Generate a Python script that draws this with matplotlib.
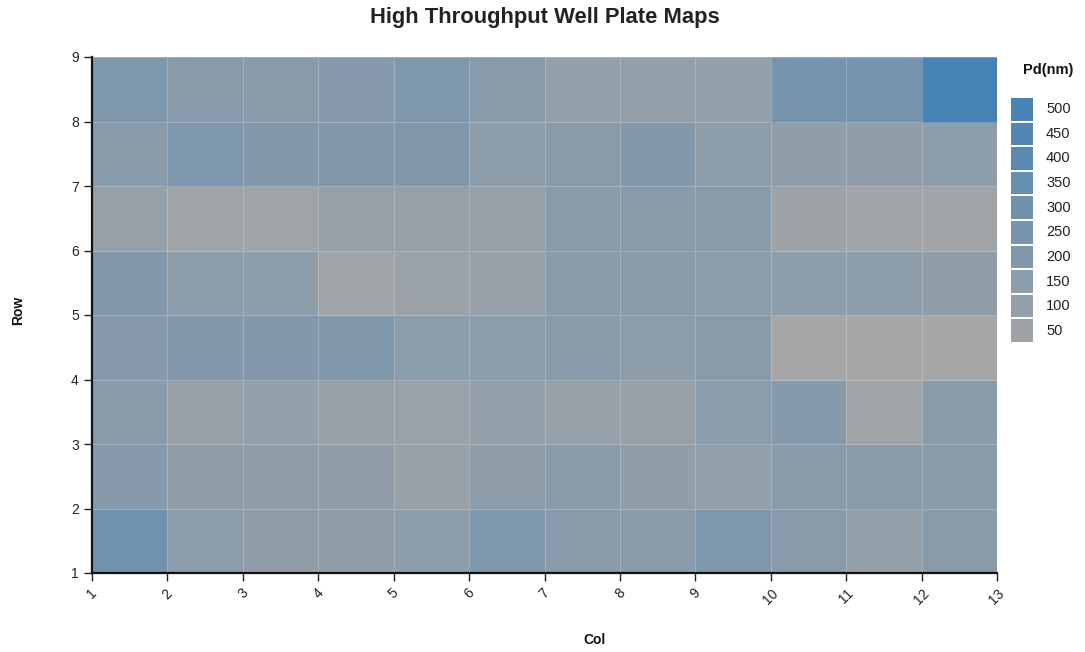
import matplotlib
matplotlib.use("Agg")
import matplotlib.pyplot as plt
import numpy as np
from matplotlib.colors import LinearSegmentedColormap, Normalize

plt.rcParams['font.family'] = ['Liberation Sans', 'DejaVu Sans']

# Pd(nm) per well, rows 1..8 (bottom to top), cols 1..12
row1 = [286, 146, 114, 125, 130, 208, 156, 156, 208, 156, 104, 166]
row2 = [172, 125, 125, 114, 73, 125, 156, 114, 104, 156, 156, 156]
row3 = [156, 94, 104, 73, 68, 104, 94, 94, 146, 177, 26, 156]
row4 = [172, 187, 187, 198, 146, 146, 156, 135, 156, 0, 0, 0]
row5 = [198, 130, 130, 21, 62, 83, 156, 156, 146, 135, 130, 125]
row6 = [94, 26, 26, 94, 83, 94, 166, 166, 166, 42, 36, 36]
row7 = [166, 218, 187, 187, 198, 130, 156, 187, 130, 120, 114, 130]
row8 = [208, 156, 156, 172, 208, 166, 104, 104, 104, 260, 260, 520]

col_edges = list(range(1, 14))
row_edges = list(range(1, 10))
legend_values = [500, 450, 400, 350, 300, 250, 200, 150, 100, 50]

grid = np.array([row1, row2, row3, row4, row5, row6, row7, row8])

cmap = LinearSegmentedColormap.from_list("graysteel", ["#a6a6a6", "#4682b4"])
norm = Normalize(vmin=0, vmax=grid.max())

fig = plt.figure(figsize=(10.85, 6.52), dpi=100)
ax = fig.add_axes([92 / 1085, 1 - 573 / 652, 905 / 1085, 516 / 652])

ax.pcolormesh(col_edges, row_edges, grid, cmap=cmap, norm=norm,
              edgecolors=(1, 1, 1, 0.22), linewidth=0.7)
ax.set_xlim(1, 13)
ax.set_ylim(1, 9)
ax.set_xticks(col_edges)
ax.set_yticks(row_edges)
ax.tick_params(direction='out', length=6, width=1, colors='#222222', labelsize=10)
for lbl in ax.get_xticklabels():
    lbl.set_rotation(45)
    lbl.set_ha('center')
    lbl.set_va('top')
for s in ['top', 'right']:
    ax.spines[s].set_visible(False)
for s in ['left', 'bottom']:
    ax.spines[s].set_linewidth(1.6)
    ax.spines[s].set_color('#111111')

fig.text(545 / 1085, 1 - 18 / 652, "High Throughput Well Plate Maps", ha='center', va='center',
         fontsize=15.8, fontweight='bold', color='#222222')
fig.text(595 / 1085, 1 - 640 / 652, "Col", ha='center', va='center',
         fontsize=10, fontweight='bold', color='#111111')
fig.text(18 / 1085, 1 - 310 / 652, "Row", ha='center', va='center', rotation=90,
         fontsize=10, fontweight='bold', color='#111111')

# legend swatches
lax = fig.add_axes([1010 / 1085, 1 - 343 / 652, 24 / 1085, 246 / 652])
n = len(legend_values)
lax.pcolormesh([0, 1], np.arange(n + 1), np.array(legend_values[::-1]).reshape(-1, 1),
               cmap=cmap, norm=norm, edgecolors='white', linewidth=1.2)
lax.set_xlim(0, 1)
lax.set_ylim(0, n)
lax.axis('off')
for i, v in enumerate(legend_values[::-1]):
    lax.text(1.5, i + 0.5, str(v), ha='left', va='center', fontsize=10.5, color='#222222')
fig.text(1048 / 1085, 1 - 70 / 652, "Pd(nm)", ha='center', va='center',
         fontsize=10.5, fontweight='bold', color='#111111')

fig.savefig("out.png", dpi=100)
